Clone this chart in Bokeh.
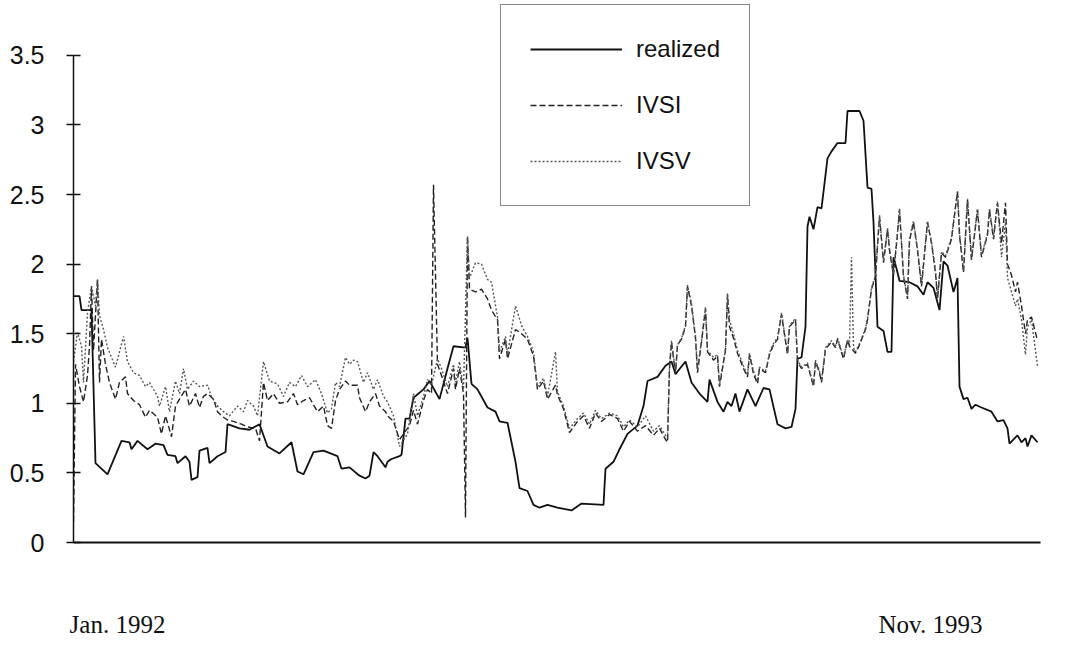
from bokeh.plotting import figure
from bokeh.models import Range1d, FixedTicker, Legend, LegendItem
from bokeh.embed import file_html
from bokeh.resources import INLINE

# ---- data (observation index from Jan. 1992 to Nov. 1993) ----
realized_t = [0, 3, 4, 9, 11, 17, 24, 28, 29, 32, 37, 41, 45, 47, 51, 52, 56, 58, 59, 62, 63, 67, 68, 72, 76, 77,
              83, 88, 93, 97, 103, 109, 112, 115, 120, 125, 132, 134, 138, 143, 146, 148, 150, 152, 156, 157, 159,
              163, 164, 166, 168, 170, 175, 178, 183, 187, 190, 196, 197, 199, 202, 207, 211, 213, 217, 221, 223,
              227, 230, 233, 237, 242, 249, 254, 265, 266, 270, 273, 277, 282, 285, 287, 292, 296, 299, 301, 306,
              309, 313, 317, 318, 322, 325, 327, 329, 331, 333, 337, 341, 345, 348, 352, 356, 359, 361, 362, 364,
              366, 367, 368, 370, 372, 374, 377, 379, 382, 386, 387, 393, 395, 397, 399, 400, 402, 405, 407, 409,
              410, 412, 413, 418, 422, 425, 427, 430, 433, 435, 437, 440, 442, 443, 445, 447, 449, 451, 454, 459,
              462, 465, 467, 468, 472, 474, 476, 477, 479, 482]
realized_v = [1.77, 1.77, 1.67, 1.67, 0.57, 0.49, 0.73, 0.72, 0.67, 0.73, 0.67, 0.71, 0.70, 0.63, 0.62, 0.57, 0.62,
              0.58, 0.45, 0.47, 0.66, 0.68, 0.57, 0.62, 0.65, 0.85, 0.82, 0.81, 0.85, 0.69, 0.64, 0.72, 0.51, 0.49,
              0.65, 0.66, 0.62, 0.53, 0.54, 0.48, 0.46, 0.48, 0.65, 0.62, 0.54, 0.58, 0.60, 0.62, 0.63, 0.89, 0.89,
              1.04, 1.10, 1.16, 1.03, 1.25, 1.41, 1.40, 1.47, 1.14, 1.10, 0.97, 0.94, 0.87, 0.86, 0.58, 0.39, 0.37,
              0.27, 0.25, 0.27, 0.25, 0.23, 0.28, 0.27, 0.53, 0.58, 0.67, 0.78, 0.84, 0.98, 1.16, 1.19, 1.27, 1.30,
              1.21, 1.30, 1.15, 1.07, 1.01, 1.17, 1.01, 0.94, 1.01, 0.98, 1.07, 0.94, 1.10, 0.98, 1.11, 1.10, 0.85,
              0.82, 0.83, 0.96, 1.32, 1.33, 1.55, 2.27, 2.34, 2.25, 2.41, 2.40, 2.76, 2.81, 2.87, 2.87, 3.10, 3.10,
              3.03, 2.55, 2.54, 2.30, 1.55, 1.52, 1.37, 1.37, 2.05, 1.94, 1.88, 1.87, 1.84, 1.78, 1.87, 1.83, 1.67,
              2.02, 1.99, 1.80, 1.90, 1.12, 1.03, 1.04, 0.96, 0.99, 0.97, 0.94, 0.87, 0.88, 0.82, 0.71, 0.77, 0.72,
              0.75, 0.69, 0.77, 0.72]

ivsi_t = [0, 1, 3, 5, 7, 8, 9, 10, 12, 13, 14, 16, 18, 21, 23, 26, 27, 30, 33, 36, 38, 42, 44, 46, 49, 51, 53, 56,
          58, 61, 63, 65, 67, 70, 72, 74, 77, 80, 84, 87, 91, 93, 95, 97, 100, 103, 107, 110, 112, 115, 118, 122,
          125, 127, 129, 131, 133, 136, 138, 142, 143, 146, 148, 151, 153, 156, 157, 160, 163, 166, 168, 170, 172,
          175, 177, 179, 180, 182, 184, 187, 190, 191, 193, 195, 196, 197, 198, 201, 204, 207, 209, 212, 213, 216,
          217, 221, 224, 227, 230, 232, 235, 237, 241, 242, 245, 248, 252, 255, 258, 261, 264, 268, 272, 275, 278,
          282, 286, 290, 293, 296, 297, 298, 299, 301, 302, 304, 306, 307, 309, 311, 312, 314, 316, 317, 320, 322,
          323, 326, 327, 328, 330, 332, 335, 337, 338, 340, 342, 343, 346, 348, 350, 352, 354, 357, 358, 361, 362,
          364, 367, 370, 371, 373, 374, 376, 379, 381, 382, 385, 387, 388, 391, 393, 396, 397, 399, 401, 402, 403,
          405, 407, 408, 410, 412, 413, 415, 417, 418, 420, 422, 424, 427, 429, 431, 432, 434, 436, 439, 442, 443,
          445, 447, 449, 452, 454, 457, 458, 460, 462, 464, 466, 467, 469, 471, 472, 474, 476, 477, 479, 482]
ivsi_v = [0.15, 1.28, 1.12, 1.01, 1.20, 1.41, 1.84, 1.38, 1.89, 1.15, 1.46, 1.28, 1.15, 1.03, 1.15, 1.19, 1.07,
          1.02, 0.99, 0.90, 0.95, 0.90, 0.78, 0.91, 0.76, 0.98, 1.03, 1.10, 0.98, 1.07, 0.97, 1.05, 1.07, 1.03,
          0.94, 0.91, 0.88, 0.87, 0.85, 0.83, 0.82, 0.73, 1.15, 1.02, 1.07, 1.00, 1.01, 1.07, 0.99, 1.02, 1.04,
          0.94, 0.98, 0.84, 0.82, 1.02, 1.10, 1.16, 1.13, 1.13, 1.04, 0.94, 1.01, 1.07, 0.98, 0.94, 0.91, 0.87,
          0.74, 0.80, 0.84, 0.95, 0.85, 1.02, 1.10, 1.07, 2.57, 1.28, 1.20, 1.07, 1.25, 1.10, 1.25, 1.07, 0.18,
          2.20, 1.82, 1.80, 1.82, 1.75, 1.67, 1.60, 1.32, 1.46, 1.32, 1.53, 1.50, 1.46, 1.34, 1.10, 1.16, 1.03,
          1.13, 1.06, 0.96, 0.79, 0.87, 0.91, 0.82, 0.93, 0.87, 0.92, 0.89, 0.80, 0.87, 0.80, 0.84, 0.77, 0.82,
          0.74, 0.72, 1.25, 1.44, 1.21, 1.42, 1.46, 1.55, 1.84, 1.70, 1.47, 1.22, 1.44, 1.68, 1.37, 1.31, 1.34,
          1.12, 1.38, 1.78, 1.55, 1.47, 1.36, 1.25, 1.19, 1.35, 1.21, 1.14, 1.25, 1.22, 1.35, 1.42, 1.46, 1.64,
          1.35, 1.55, 1.60, 1.30, 1.25, 1.28, 1.12, 1.30, 1.22, 1.15, 1.39, 1.44, 1.40, 1.46, 1.32, 1.45, 1.41,
          1.36, 1.42, 1.53, 1.60, 1.82, 1.91, 2.13, 2.34, 2.01, 2.25, 2.10, 1.92, 2.22, 2.39, 1.91, 1.75, 2.17,
          2.30, 2.10, 1.84, 2.30, 2.15, 1.94, 1.75, 2.08, 2.05, 2.18, 2.52, 2.21, 1.94, 2.46, 2.03, 2.39, 2.05,
          2.21, 2.39, 2.18, 2.44, 2.15, 2.44, 2.00, 1.92, 1.80, 1.87, 1.70, 1.50, 1.60, 1.62, 1.45]

ivsv_t = [0, 2, 4, 5, 7, 9, 11, 12, 13, 15, 17, 21, 23, 25, 27, 30, 33, 36, 38, 42, 43, 46, 48, 51, 53, 55, 57, 60,
          63, 67, 69, 72, 75, 78, 82, 85, 87, 90, 92, 95, 98, 102, 105, 108, 111, 114, 117, 121, 124, 127, 129,
          131, 133, 136, 138, 140, 142, 145, 147, 150, 152, 155, 157, 160, 163, 167, 170, 172, 175, 177, 179, 182,
          184, 187, 190, 191, 193, 195, 197, 198, 201, 204, 207, 209, 212, 213, 216, 217, 221, 224, 227, 230, 232,
          235, 237, 241, 242, 245, 248, 252, 255, 258, 261, 264, 268, 272, 275, 278, 282, 286, 290, 293, 296, 297,
          298, 299, 301, 302, 304, 306, 307, 309, 311, 312, 314, 316, 317, 320, 322, 323, 326, 327, 328, 330, 332,
          335, 337, 338, 340, 342, 343, 346, 348, 350, 352, 354, 357, 358, 361, 362, 364, 367, 370, 371, 373, 374,
          376, 379, 381, 382, 385, 387, 388, 389, 390, 391, 393, 396, 397, 399, 401, 402, 403, 405, 407, 408, 410,
          412, 413, 415, 417, 418, 420, 422, 424, 427, 429, 431, 432, 434, 436, 439, 442, 443, 445, 447, 449, 452,
          454, 457, 458, 460, 462, 464, 466, 467, 469, 471, 472, 474, 476, 477, 479, 482]
ivsv_v = [1.30, 1.51, 1.41, 1.15, 1.65, 1.84, 1.70, 1.89, 1.63, 1.53, 1.40, 1.26, 1.37, 1.48, 1.30, 1.22, 1.20,
          1.12, 1.15, 1.05, 0.98, 1.12, 0.94, 1.16, 1.07, 1.25, 1.10, 1.16, 1.12, 1.13, 1.05, 0.98, 0.94, 0.91,
          0.98, 0.94, 1.02, 0.98, 0.91, 1.30, 1.16, 1.14, 1.05, 1.15, 1.12, 1.20, 1.12, 1.17, 1.07, 0.93, 0.96,
          1.15, 1.12, 1.33, 1.28, 1.31, 1.30, 1.15, 1.22, 1.10, 1.17, 1.05, 1.01, 0.91, 0.69, 0.78, 1.07, 0.91,
          1.05, 1.17, 1.13, 1.32, 1.25, 1.12, 1.28, 1.15, 1.30, 1.10, 2.20, 1.90, 2.01, 2.00, 1.89, 1.87, 1.62,
          1.37, 1.48, 1.35, 1.70, 1.56, 1.48, 1.37, 1.12, 1.18, 1.05, 1.37, 1.08, 0.98, 0.82, 0.89, 0.93, 0.85,
          0.95, 0.89, 0.93, 0.91, 0.83, 0.88, 0.83, 0.91, 0.80, 0.84, 0.77, 0.75, 1.27, 1.45, 1.23, 1.42, 1.47,
          1.56, 1.85, 1.72, 1.48, 1.24, 1.45, 1.69, 1.38, 1.33, 1.35, 1.13, 1.39, 1.79, 1.60, 1.50, 1.38, 1.27,
          1.20, 1.36, 1.23, 1.16, 1.26, 1.23, 1.36, 1.43, 1.47, 1.65, 1.36, 1.56, 1.61, 1.31, 1.26, 1.29, 1.13,
          1.31, 1.23, 1.16, 1.40, 1.45, 1.41, 1.47, 1.33, 1.46, 1.42, 2.05, 1.40, 1.37, 1.43, 1.54, 1.61, 1.83,
          1.92, 2.14, 2.35, 2.02, 2.26, 2.11, 1.93, 2.23, 2.40, 1.92, 1.76, 2.18, 2.31, 2.11, 1.85, 2.31, 2.16,
          1.95, 1.76, 2.09, 2.06, 2.19, 2.53, 2.22, 1.95, 2.47, 2.04, 2.40, 2.06, 2.22, 2.40, 2.19, 2.45, 2.05,
          2.30, 1.90, 1.80, 1.70, 1.75, 1.60, 1.35, 1.55, 1.60, 1.27]

y_ticks = [0, 0.5, 1, 1.5, 2, 2.5, 3, 3.5]
y_tick_labels = ["0", "0.5", "1", "1.5", "2", "2.5", "3", "3.5"]
x_label_pos = [22, 428.5]
x_labels = ["Jan. 1992", "Nov. 1993"]
series_names = ["realized", "IVSI", "IVSV"]

# frame extends above the 3.5 tick so that the legend box fits; the axis line stops at 3.5
p = figure(width=1065, height=640, output_backend="svg", toolbar_location=None,
           x_range=Range1d(0, 483.5), y_range=Range1d(0, 3.894),
           min_border_left=73, min_border_right=25, min_border_top=0, min_border_bottom=96)
p.outline_line_color = None
p.xgrid.grid_line_color = None
p.ygrid.grid_line_color = None
p.background_fill_color = "white"
p.border_fill_color = "white"

r_real = p.line(realized_t, realized_v, line_color="#111111", line_width=1.8)
r_ivsi = p.line(ivsi_t, ivsi_v, line_color="#222222", line_width=1.4, line_dash="6 3")
r_ivsv = p.line(ivsv_t, ivsv_v, line_color="#555555", line_width=1.4, line_dash="2 2")

# y axis
ya = p.yaxis[0]
ya.ticker = FixedTicker(ticks=y_ticks)
ya.bounds = (y_ticks[0], y_ticks[-1])
ya.major_label_overrides = {t: l for t, l in zip(y_ticks, y_tick_labels)}
ya.major_tick_in = 7
ya.major_tick_out = 7
ya.minor_tick_in = 0
ya.minor_tick_out = 0
ya.axis_line_width = 1.5
ya.axis_line_color = "#111111"
ya.major_tick_line_color = "#111111"
ya.major_tick_line_width = 1.5
ya.major_label_text_font = "Liberation Sans"
ya.major_label_text_font_size = "25px"
ya.major_label_text_color = "#111111"
ya.major_label_standoff = 22

# x axis
xa = p.xaxis[0]
xa.ticker = FixedTicker(ticks=x_label_pos)
xa.major_label_overrides = {t: l for t, l in zip(x_label_pos, x_labels)}
xa.major_tick_in = 0
xa.major_tick_out = 0
xa.minor_tick_in = 0
xa.minor_tick_out = 0
xa.axis_line_width = 2
xa.axis_line_color = "#111111"
xa.major_label_text_font = "Liberation Serif"
xa.major_label_text_font_size = "25px"
xa.major_label_text_color = "#111111"
xa.major_label_standoff = 68

legend = Legend(items=[LegendItem(label=series_names[0], renderers=[r_real]),
                       LegendItem(label=series_names[1], renderers=[r_ivsi]),
                       LegendItem(label=series_names[2], renderers=[r_ivsv])],
                location=(427, 336))
legend.glyph_width = 92
legend.glyph_height = 30
legend.label_height = 30
legend.spacing = 26
legend.padding = 29
legend.margin = 0
legend.label_standoff = 14
legend.label_text_font = "Liberation Sans"
legend.label_text_font_size = "24px"
legend.label_text_color = "#111111"
legend.border_line_color = "#111111"
legend.border_line_width = 1.5
legend.background_fill_color = "white"
legend.background_fill_alpha = 1.0
p.add_layout(legend, "center")

open("out.html", "w").write(file_html(p, INLINE))
